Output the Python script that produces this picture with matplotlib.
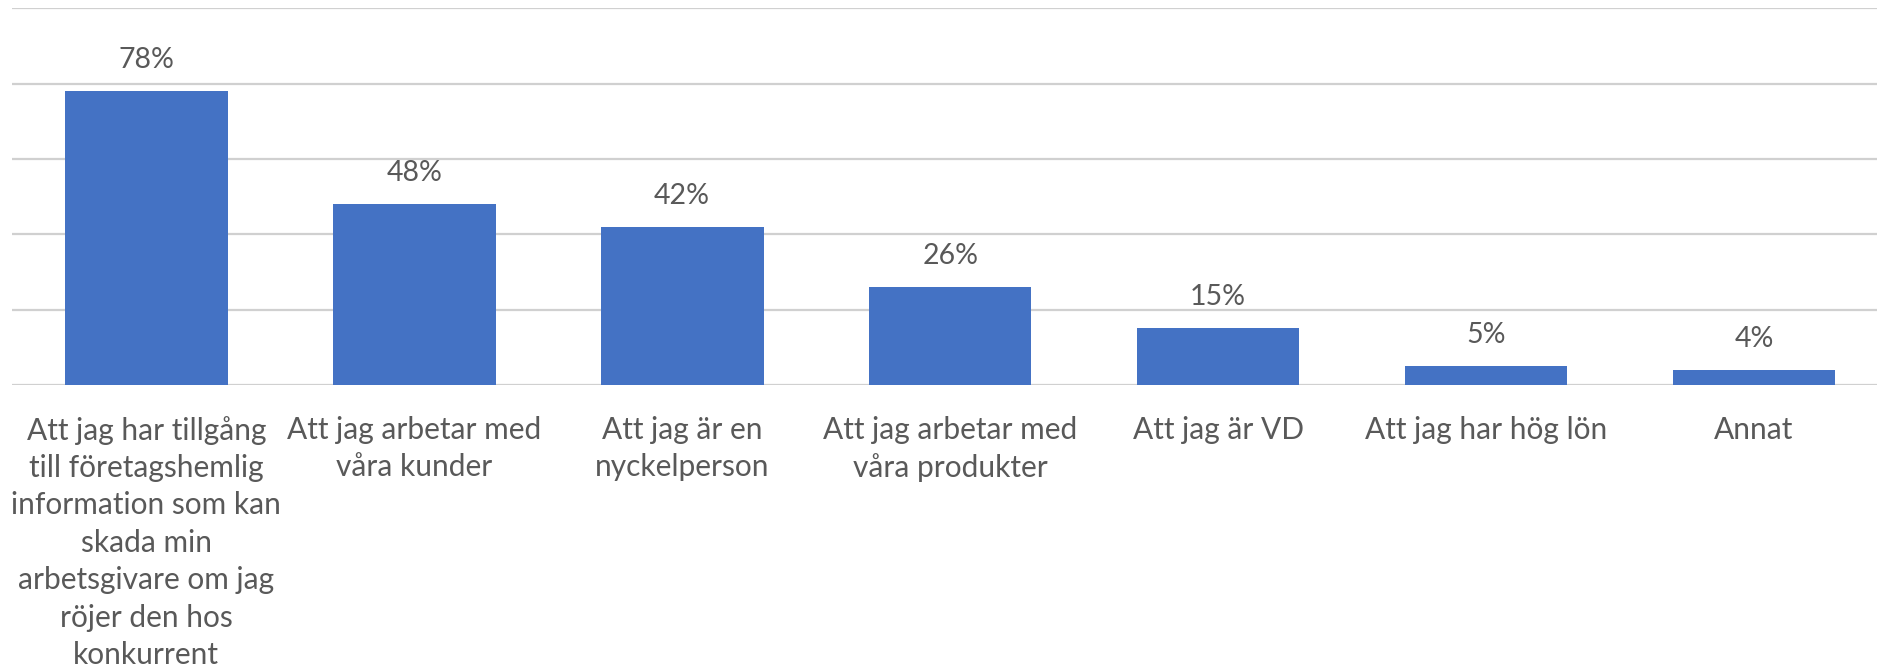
import numpy as np
import matplotlib.pyplot as plt

categories = [
    "Att jag har tillgång\ntill företagshemlig\ninformation som kan\nskada min\narbetsgivare om jag\nröjer den hos\nkonkurrent",
    "Att jag arbetar med\nvåra kunder",
    "Att jag är en\nnyckelperson",
    "Att jag arbetar med\nvåra produkter",
    "Att jag är VD",
    "Att jag har hög lön",
    "Annat",
]
values = [78, 48, 42, 26, 15, 5, 4]
value_labels = ["78%", "48%", "42%", "26%", "15%", "5%", "4%"]

bar_color = '#4472C4'
text_color = '#595959'
grid_color = '#d0d0d0'

plt.rcParams['font.family'] = ['Lato', 'DejaVu Sans']

W, H = 1877, 669
fig = plt.figure(figsize=(W / 100, H / 100), dpi=100)
ax = fig.add_axes([12.3 / W, (H - 385) / H, (1888 - 12.3) / W, 376.7 / H])

x = np.arange(len(categories))
ax.bar(x, values, width=0.607, color=bar_color, zorder=3)

for xi, v, lab in zip(x, values, value_labels):
    ax.annotate(lab, xy=(xi, v), xytext=(0, 13), textcoords='offset points',
                ha='center', va='bottom', fontsize=20.5, color=text_color)

ax.set_xlim(-0.5, len(categories) - 0.5)
ax.set_ylim(0, 100)
ax.set_yticks(np.arange(0, 101, 20))
ax.yaxis.grid(True, color=grid_color, linewidth=1.6, zorder=0)
ax.set_yticklabels([])

ax.set_xticks(x)
ax.set_xticklabels(categories, fontsize=21.5, color=text_color)
for t in ax.get_xticklabels():
    t.set_linespacing(1.41)
    t.set_multialignment('center')

ax.tick_params(axis='both', length=0)
ax.tick_params(axis='x', pad=22)
for side in ['top', 'right', 'left', 'bottom']:
    ax.spines[side].set_visible(False)

fig.savefig('out.png', dpi=100)
